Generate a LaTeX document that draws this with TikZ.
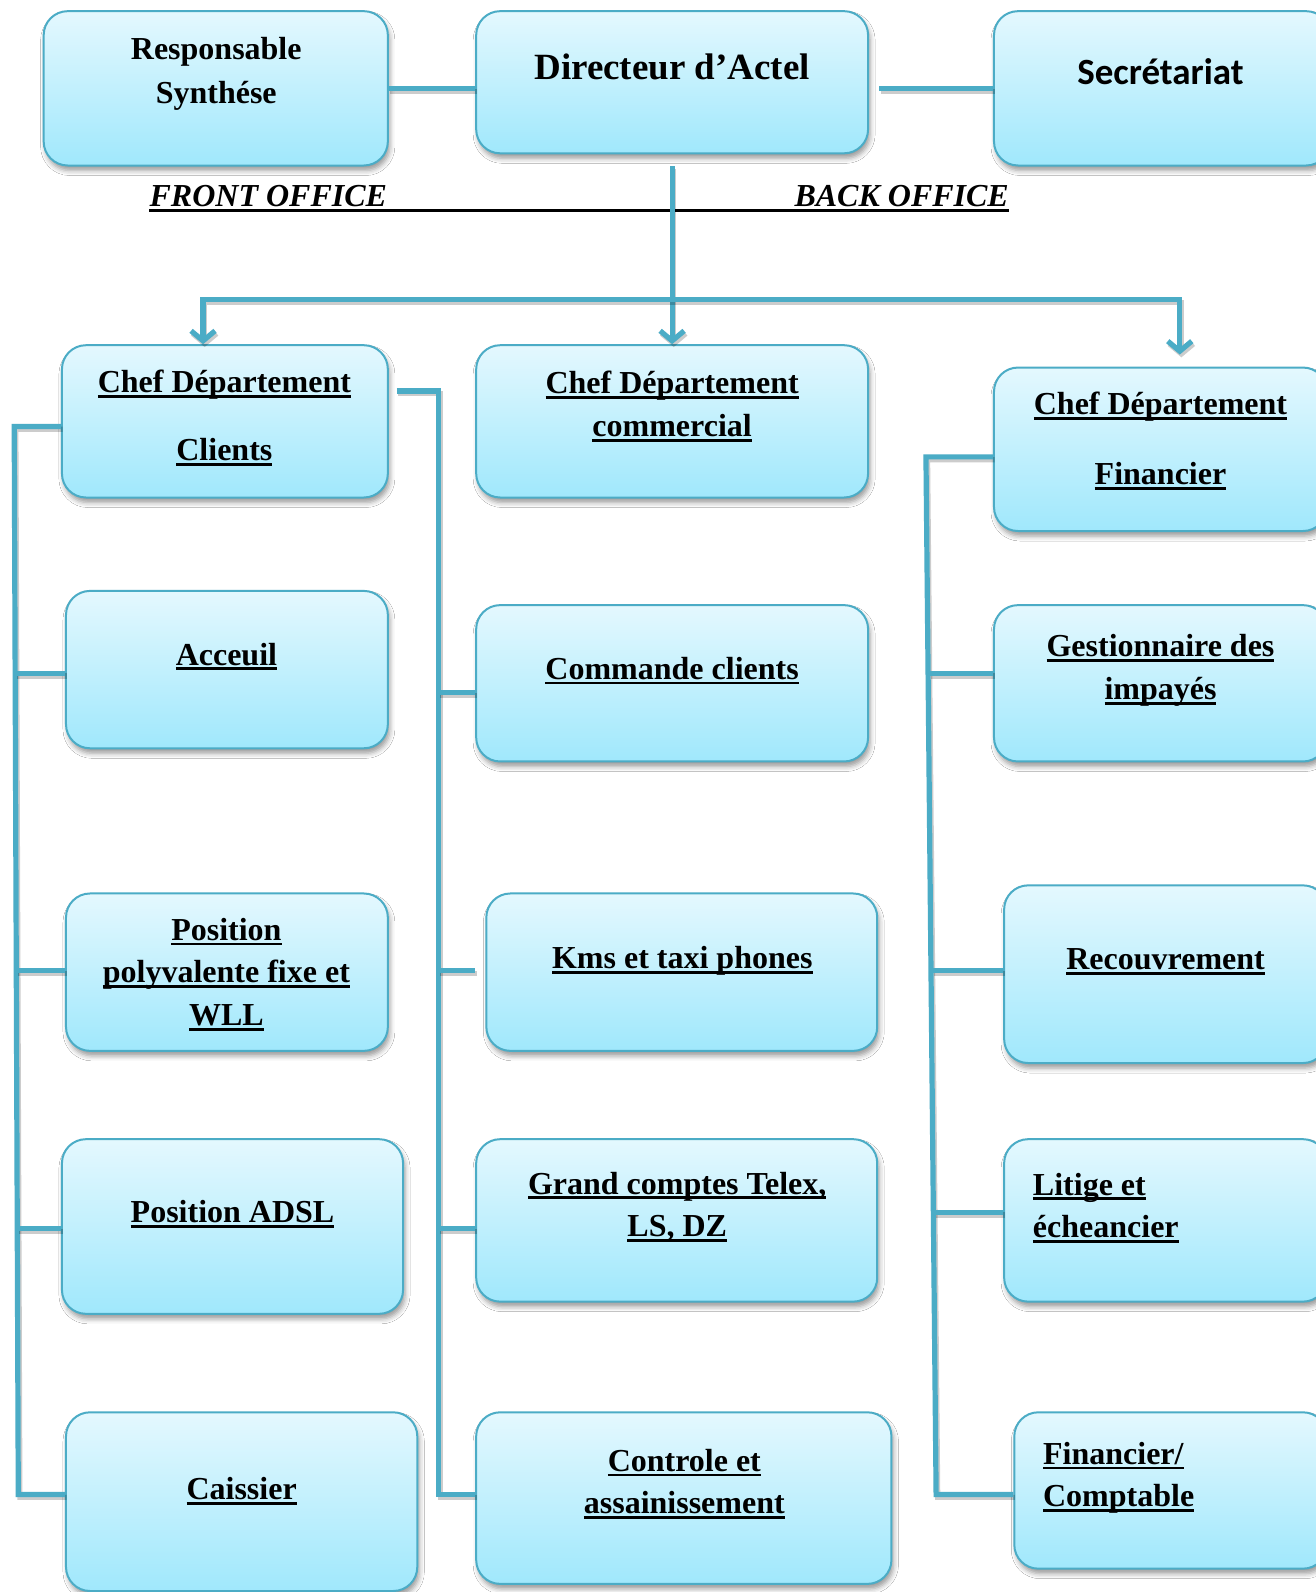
\documentclass[tikz,border=0pt]{standalone}
\usepackage{fontspec}
\setmainfont{Liberation Serif}
\newfontfamily\calib{Carlito}
\usetikzlibrary{arrows.meta,fit,shadows.blur,calc}
\newsavebox\ulbox
\newcommand\myul[1]{\sbox\ulbox{#1}\rlap{\rule[-2.6pt]{\wd\ulbox}{1.4pt}}\usebox\ulbox}
\definecolor{bord}{RGB}{75,172,198}
\definecolor{ftop}{RGB}{228,248,254}
\definecolor{fbot}{RGB}{160,232,252}
\tikzset{
  box/.style={draw=bord, line width=1pt, rounded corners=12pt, top color=ftop, bottom color=fbot,
    inner sep=0pt, blur shadow={shadow xshift=1pt, shadow yshift=-2.5pt, shadow blur radius=2.5pt, shadow opacity=40}},
  conn/.style={draw=bord, line width=2.6pt,
    preaction={draw=black, opacity=0.2, line width=2.6pt, transform canvas={xshift=0.8pt,yshift=-1.4pt}}},
  lab/.style={inner sep=0pt, anchor=base, align=center, font=\bfseries\fontsize{16}{21.3}\selectfont},
  labl/.style={inner sep=0pt, anchor=base west, align=left, font=\bfseries\fontsize{16}{21.3}\selectfont},
  office/.style={inner sep=0pt, font=\bfseries\itshape\fontsize{16}{20}\selectfont},
}
\begin{document}
\begin{tikzpicture}[x=0.5077pt, y=-0.5077pt]
\path[use as bounding box, clip] (0,0) rectangle (1296,1568);
\fill[white] (0,0) rectangle (1296,1568);

% boxes
\node[box, fit={(43,11) (382,163)}] (rs) {};
\node[box, fit={(469,11) (855,151)}] (dir) {};
\node[box, fit={(979,11) (1310,163)}] (sec) {};
\node[box, fit={(61,340) (382,490)}] (cdc) {};
\node[box, fit={(65,582) (382,737)}] (acc) {};
\node[box, fit={(65,880) (382,1035)}] (pos) {};
\node[box, fit={(61,1122) (397,1294)}] (adsl) {};
\node[box, fit={(65,1391) (411,1567)}] (cai) {};
\node[box, fit={(469,340) (855,490)}] (cdm) {};
\node[box, fit={(469,596) (855,750)}] (cmd) {};
\node[box, fit={(479,880) (864,1035)}] (kms) {};
\node[box, fit={(469,1122) (864,1282)}] (gc) {};
\node[box, fit={(469,1391) (878,1560)}] (ctl) {};
\node[box, fit={(979,362) (1307,523)}] (cdf) {};
\node[box, fit={(979,596) (1307,750)}] (ges) {};
\node[box, fit={(989,872) (1307,1047)}] (rec) {};
\node[box, fit={(989,1122) (1307,1282)}] (lit) {};
\node[box, fit={(999,1391) (1307,1545)}] (fc) {};

% texts (multi-line nodes: anchor base = last line's baseline)
\node[lab, font=\bfseries\fontsize{16}{21.8}\selectfont] (t-rs) at (213,102) {Responsable\\Synthése};
\node[lab, font=\bfseries\fontsize{18.5}{22}\selectfont] (t-dir) at (662,78) {Directeur d’Actel};
\node[lab, font=\calib\bfseries\fontsize{18.5}{22}\selectfont] (t-sec) at (1143,83) {Secrétariat};
\node[lab] (t-cdc) at (221,454) {\myul{Chef Département}\\[13pt]\myul{Clients}};
\node[lab] (t-acc) at (223,655) {\myul{Acceuil}};
\node[lab] (t-pos) at (223,1010) {\myul{Position}\\\myul{polyvalente fixe et}\\\myul{WLL}};
\node[lab] (t-adsl) at (229,1204) {\myul{Position ADSL}};
\node[lab] (t-cai) at (238,1477) {\myul{Caissier}};
\node[lab] (t-cdm) at (662,430) {\myul{Chef Département}\\\myul{commercial}};
\node[lab] (t-cmd) at (662,669) {\myul{Commande clients}};
\node[lab] (t-kms) at (672,954) {\myul{Kms et taxi phones}};
\node[lab] (t-gc) at (667,1218) {\myul{Grand comptes Telex,}\\\myul{LS, DZ}};
\node[lab] (t-ctl) at (674,1491) {\myul{Controle et}\\\myul{assainissement}};
\node[lab] (t-cdf) at (1143,477) {\myul{Chef Département}\\[13.5pt]\myul{Financier}};
\node[lab] (t-ges) at (1143,689) {\myul{Gestionnaire des}\\\myul{impayés}};
\node[lab] (t-rec) at (1148,955) {\myul{Recouvrement}};
\node[labl] (t-lit) at (1017,1219) {\myul{Litige et}\\\myul{écheancier}};
\node[labl] (t-fc) at (1027,1484) {\myul{Financier/}\\\myul{Comptable}};

% front / back office
\node[office, anchor=base west] (front) at (147,203) {FRONT OFFICE};
\node[office, anchor=base east] (back) at (994,203) {BACK OFFICE};
\draw[line width=1.5pt] ($(front.base west)+(0,-2.2pt)$) -- ($(back.base east)+(0,-2.2pt)$);

% top connectors
\draw[conn] (rs.east) -- (rs.east -| dir.west);
\draw[conn, shorten >=5pt] (sec.west) -- (sec.west -| dir.east);

\coordinate (hl) at (200,295);
\coordinate (hr) at (1162,295);
\draw[conn, -{Straight Barb[length=5pt,width=12pt]}, shorten <=6pt] (dir.south) -- (dir.south |- cdm.north);
\draw[conn, {Straight Barb[length=5pt,width=12pt]}-{Straight Barb[length=5pt,width=12pt]}, shorten >=6pt]
  (hl |- cdc.north) -- (hl) -- (hr) -- (hr |- cdf.north);

% left bus
\coordinate (lb0) at (14,420);
\coordinate (lb1) at (15,663);
\coordinate (lb2) at (16,956);
\coordinate (lb3) at (17,1210);
\coordinate (lb4) at (18,1472);
\draw[conn] (lb0 -| cdc.west) -- (lb0) -- (lb4) -- (lb4 -| cai.west);
\draw[conn] (lb1) -- (lb1 -| acc.west);
\draw[conn] (lb2) -- (lb2 -| pos.west);
\draw[conn] (lb3) -- (lb3 -| adsl.west);

% middle bus
\coordinate (mb0) at (432,385);
\coordinate (mb1) at (432,682);
\coordinate (mb2) at (432,956);
\coordinate (mb3) at (432,1210);
\coordinate (mb4) at (432,1472);
\draw[conn, shorten <=4pt] (mb0 -| cdc.east) -- (mb0) -- (mb4) -- (mb4 -| ctl.west);
\draw[conn] (mb1) -- (mb1 -| cmd.west);
\draw[conn, shorten >=5pt] (mb2) -- (mb2 -| kms.west);
\draw[conn] (mb3) -- (mb3 -| gc.west);

% right bus
\coordinate (rb0) at (912,450);
\coordinate (rb1) at (915,663);
\coordinate (rb2) at (918,956);
\coordinate (rb3) at (920,1194);
\coordinate (rb4) at (922,1472);
\draw[conn] (rb0 -| cdf.west) -- (rb0) -- (rb4) -- (rb4 -| fc.west);
\draw[conn] (rb1) -- (rb1 -| ges.west);
\draw[conn] (rb2) -- (rb2 -| rec.west);
\draw[conn] (rb3) -- (rb3 -| lit.west);
\end{tikzpicture}
\end{document}
